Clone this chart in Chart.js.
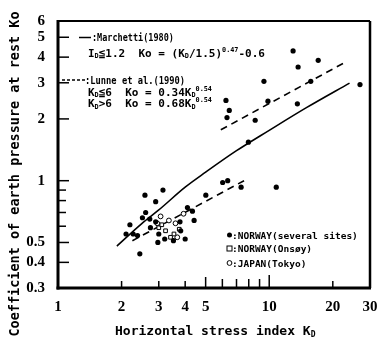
<!DOCTYPE html>
<html>
<head>
<meta charset="utf-8">
<script src="https://cdn.jsdelivr.net/npm/chart.js@4"></script>
<style>
  body { margin: 0; background: #fff; }
</style>
</head>
<body>
<canvas id="chart" width="380" height="341"></canvas>
<script>
// K_D (horizontal stress index) and K0
const norwayKD = [2.58, 3.14, 2.90, 2.60, 2.19, 2.10, 2.27, 2.51, 2.44, 2.97, 4.00, 4.41, 4.10, 4.33, 5.01,
                  2.38, 2.74, 3.20, 3.52, 3.00, 2.72, 2.90, 3.78, 3.81,
                  12.97, 13.70, 17.06, 9.44, 15.73, 26.9, 9.86, 13.59, 6.24, 6.47, 6.31, 8.58, 7.97,
                  6.02, 6.36, 7.36, 10.8];
const norwayK0 = [0.85, 0.90, 0.79, 0.70, 0.61, 0.55, 0.55, 0.66, 0.44, 0.50, 0.52, 0.64, 0.74, 0.71, 0.85,
                  0.54, 0.59, 0.52, 0.51, 0.55, 0.65, 0.63, 0.63, 0.57,
                  4.29, 3.58, 3.86, 3.05, 3.05, 2.94, 2.44, 2.37, 2.46, 2.20, 2.03, 1.97, 1.54,
                  0.98, 1.00, 0.93, 0.93];
const onsoyKD = [3.00, 3.23, 3.41, 3.54, 3.10, 3.75];
const onsoyK0 = [0.59, 0.57, 0.53, 0.55, 0.61, 0.58];
const tokyoKD = [3.06, 3.35, 3.93, 3.67, 3.60, 2.95];
const tokyoK0 = [0.67, 0.64, 0.69, 0.53, 0.62, 0.62];

// correlation lines
const marchettiKD = [1.9, 2.5, 3, 4, 5, 7, 10, 15, 24];
const marchettiK0 = [0.48, 0.62, 0.72, 0.93, 1.10, 1.40, 1.76, 2.27, 2.99];
const lunneLowKD = [2.25, 7.6];
const lunneLowK0 = [0.51, 1.0];
const lunneHighKD = [5.9, 22.4];
const lunneHighK0 = [1.77, 3.73];

const xLabels = [1, 2, 3, 4, 5, 10, 20, 30];
const yLabels = [0.3, 0.4, 0.5, 1, 2, 3, 4, 5, 6];
const xMarks = [2, 3, 4, 5, 6, 7, 8, 9, 10, 20];
const yMarks = [0.4, 0.5, 0.6, 0.7, 0.8, 0.9, 1, 2, 3, 4, 5];

function pairs(xs, ys) {
  return xs.map((x, i) => ({ x: x, y: ys[i] }));
}

const mono = '"DejaVu Sans Mono", monospace';
const serif = '"Liberation Serif", serif';

function seg(ctx, x1, y1, x2, y2) {
  ctx.beginPath();
  ctx.moveTo(x1, y1);
  ctx.lineTo(x2, y2);
  ctx.stroke();
}

// text with sub/superscripts, sx squeezes it sideways
function rich(ctx, x, y, parts, size, sx) {
  ctx.save();
  ctx.translate(x, y);
  ctx.scale(sx || 1, 1);
  let cx = 0;
  parts.forEach(p => {
    const t = p[0], kind = p[1] || 'n';
    const s = kind === 'n' ? size : size * 0.62;
    const dy = kind === 'sub' ? size * 0.15 : kind === 'sup' ? -size * 0.45 : 0;
    ctx.font = 'bold ' + s + 'px ' + mono;
    ctx.fillText(t, cx, dy);
    cx += ctx.measureText(t).width;
  });
  ctx.restore();
}

const extras = {
  id: 'extras',
  afterDraw(chart) {
    const ctx = chart.ctx;
    const a = chart.chartArea;
    const xs = chart.scales.x, ys = chart.scales.y;
    ctx.save();
    ctx.strokeStyle = '#000';
    ctx.fillStyle = '#000';
    ctx.textBaseline = 'alphabetic';

    // inward ticks
    ctx.lineWidth = 1.5;
    xMarks.forEach(v => {
      const len = v === 10 ? 13 : v === 5 ? 11 : (v > 5 && v < 10) ? 9 : 7;
      const px = xs.getPixelForValue(v);
      seg(ctx, px, a.bottom, px, a.bottom - len);
    });
    yMarks.forEach(v => {
      const len = (v > 0.5 && v < 1) ? 8 : 11;
      const py = ys.getPixelForValue(v);
      seg(ctx, a.left, py, a.left + len, py);
    });

    // frame
    ctx.lineWidth = 2;
    seg(ctx, a.left, a.top, a.right, a.top);
    ctx.lineWidth = 2.5;
    seg(ctx, a.right, a.top, a.right, a.bottom);
    ctx.lineWidth = 3;
    seg(ctx, a.left, a.top - 1, a.left, a.bottom + 1.5);
    seg(ctx, a.left - 1.5, a.bottom, a.right + 1, a.bottom);

    // correlation notes, upper left
    ctx.lineWidth = 1.5;
    seg(ctx, 79, 37.5, 91, 37.5);
    rich(ctx, 92, 41, [[':Marchetti(1980)']], 10, 0.85);
    rich(ctx, 88, 56.5, [['I'], ['D', 'sub'], ['\u22661.2  Ko = (K'], ['D', 'sub'], ['/1.5)'], ['0.47', 'sup'], ['-0.6']], 11, 1);
    ctx.setLineDash([3, 2]);
    seg(ctx, 62, 80, 85, 80);
    ctx.setLineDash([]);
    rich(ctx, 85, 84, [[':Lunne et al.(1990)']], 10, 0.875);
    rich(ctx, 88, 95.5, [['K'], ['D', 'sub'], ['\u22666  Ko = 0.34K'], ['D', 'sub'], ['0.54', 'sup']], 11, 1);
    rich(ctx, 88, 107, [['K'], ['D', 'sub'], ['>6  Ko = 0.68K'], ['D', 'sub'], ['0.54', 'sup']], 11, 1);

    // symbol key, lower right
    ctx.lineWidth = 1;
    ctx.beginPath();
    ctx.arc(229.5, 235, 2.5, 0, Math.PI * 2);
    ctx.fill();
    ctx.strokeRect(227, 246, 5, 5);
    ctx.beginPath();
    ctx.arc(229.5, 263, 2.4, 0, Math.PI * 2);
    ctx.stroke();
    rich(ctx, 232, 238.5, [[':NORWAY(several sites)']], 9.5, 1);
    rich(ctx, 232, 252, [[':NORWAY(Onsøy)']], 9.5, 1);
    rich(ctx, 232, 266.5, [[':JAPAN(Tokyo)']], 9.5, 1);

    // axis titles
    rich(ctx, 115, 335, [['Horizontal stress index K'], ['D', 'sub']], 13, 1);
    ctx.save();
    ctx.translate(19, 174);
    ctx.rotate(-Math.PI / 2);
    ctx.font = 'bold 13.5px ' + mono;
    ctx.textAlign = 'center';
    ctx.fillText('Coefficient of earth pressure at rest Ko', 0, 0);
    ctx.restore();

    ctx.restore();
  }
};

new Chart(document.getElementById('chart'), {
  type: 'scatter',
  data: {
    datasets: [
      { data: pairs(norwayKD, norwayK0), pointStyle: 'circle', pointRadius: 2.6,
        backgroundColor: '#000', borderColor: '#000', borderWidth: 0 },
      { data: pairs(onsoyKD, onsoyK0), pointStyle: 'rect', pointRadius: 2.6,
        backgroundColor: '#fff', borderColor: '#000', borderWidth: 1 },
      { data: pairs(tokyoKD, tokyoK0), pointStyle: 'circle', pointRadius: 2.4,
        backgroundColor: '#fff', borderColor: '#000', borderWidth: 1 },
      { type: 'line', data: pairs(marchettiKD, marchettiK0), showLine: true, borderColor: '#000',
        borderWidth: 1.6, pointRadius: 0, cubicInterpolationMode: 'monotone', fill: false },
      { type: 'line', data: pairs(lunneLowKD, lunneLowK0), showLine: true, borderColor: '#000',
        borderWidth: 1.6, borderDash: [7, 5], pointRadius: 0, fill: false },
      { type: 'line', data: pairs(lunneHighKD, lunneHighK0), showLine: true, borderColor: '#000',
        borderWidth: 1.6, borderDash: [7, 5], pointRadius: 0, fill: false }
    ]
  },
  options: {
    responsive: false,
    animation: false,
    layout: { padding: { top: 21, right: 10, left: 0, bottom: 0 } },
    plugins: { legend: { display: false }, tooltip: { enabled: false } },
    scales: {
      x: {
        type: 'logarithmic', min: 1, max: 30,
        grid: { display: false }, border: { display: false },
        afterBuildTicks: s => { s.ticks = xLabels.map(v => ({ value: v })); },
        afterFit: s => { s.height = 53; },
        ticks: { autoSkip: false, maxRotation: 0, padding: 2, color: '#000',
                 font: { family: serif, size: 15, weight: 'bold' }, callback: v => String(v) }
      },
      y: {
        type: 'logarithmic', min: 0.3, max: 6,
        grid: { display: false }, border: { display: false },
        afterBuildTicks: s => { s.ticks = yLabels.map(v => ({ value: v })); },
        afterFit: s => { s.width = 58; },
        ticks: { autoSkip: false, padding: 5, color: '#000',
                 font: { family: serif, size: 15, weight: 'bold' }, callback: v => String(v) }
      }
    }
  },
  plugins: [extras]
});
</script>
</body>
</html>
